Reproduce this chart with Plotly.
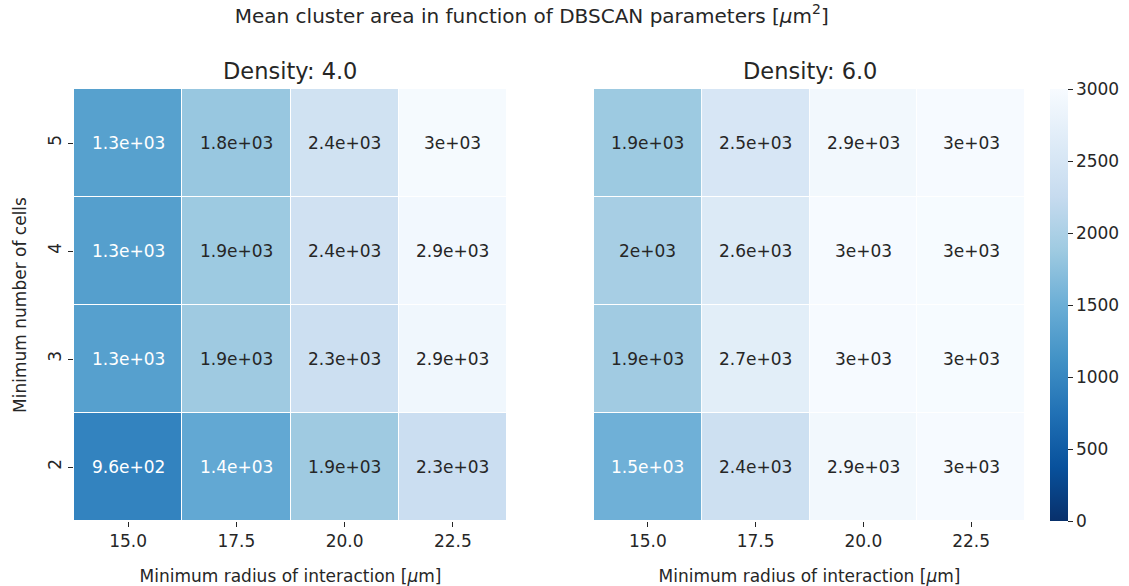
import plotly.graph_objects as go
from plotly.subplots import make_subplots

radius = ["15.0", "17.5", "20.0", "22.5"]
min_cells = ["2", "3", "4", "5"]
densities = ["Density: 4.0", "Density: 6.0"]

# rows follow min_cells order (2, 3, 4, 5), columns follow radius
area_d4 = [
    [960, 1420, 1880, 2330],
    [1310, 1880, 2340, 2900],
    [1300, 1870, 2400, 2930],
    [1320, 1830, 2410, 2970],
]
area_d6 = [
    [1530, 2360, 2920, 2980],
    [1900, 2690, 2980, 2990],
    [1960, 2600, 2980, 2990],
    [1870, 2510, 2920, 2980],
]

blues_r = ["#08306b", "#08519c", "#2171b5", "#4292c6", "#6baed6",
           "#9ecae1", "#c6dbef", "#deebf7", "#f7fbff"]
colorscale = [[i / (len(blues_r) - 1), c] for i, c in enumerate(blues_r)]

FONT = "DejaVu Sans"
TXT = "#262626"
fig = make_subplots(rows=1, cols=2, shared_yaxes=True)

for k, z in enumerate([area_d4, area_d6]):
    fig.add_trace(go.Heatmap(
        x=radius, y=min_cells, z=z, zmin=0, zmax=3000,
        colorscale=colorscale, xgap=1, ygap=1,
        showscale=(k == 0),
        colorbar=dict(x=1.026, xanchor="left", xpad=0, y=0.5, yanchor="middle",
                      len=1.0, lenmode="fraction", thickness=18, ypad=0,
                      outlinewidth=0, ticks="outside", ticklen=5, tickcolor=TXT,
                      tickvals=[0, 500, 1000, 1500, 2000, 2500, 3000],
                      tickfont=dict(family=FONT, size=17, color=TXT)),
        hoverinfo="z",
    ), row=1, col=k + 1)
    xref = "x" if k == 0 else "x2"
    yref = "y" if k == 0 else "y2"
    for i in range(len(min_cells)):
        for j in range(len(radius)):
            v = z[i][j]
            # category axes: position by category index
            fig.add_annotation(
                x=j, y=i, xref=xref, yref=yref, text="{:.2g}".format(v),
                showarrow=False,
                font=dict(family=FONT, size=17,
                          color="white" if v < 1600 else TXT))

fig.update_layout(
    width=1129, height=586,
    paper_bgcolor="white", plot_bgcolor="white",
    margin=dict(l=74, r=104, t=89, b=65, autoexpand=False),
    font=dict(family=FONT, color=TXT),
    title=dict(text="Mean cluster area in function of DBSCAN parameters [<i>μ</i>m<sup>2</sup>]",
               x=0.471, xanchor="center", y=0.985, yanchor="top",
               font=dict(family=FONT, size=20, color=TXT)),
)

fig.update_layout(xaxis=dict(domain=[0.0, 0.4553]), xaxis2=dict(domain=[0.5468, 1.0]))

for c in (1, 2):
    fig.update_xaxes(
        row=1, col=c, type="category", categoryorder="array", categoryarray=radius,
        showgrid=False, zeroline=False, showline=False, tickangle=0, automargin=False,
        ticks="outside", ticklen=5, tickcolor=TXT,
        tickfont=dict(family=FONT, size=17, color=TXT),
        title=dict(text="Minimum radius of interaction [<i>μ</i>m]", standoff=19,
                   font=dict(family=FONT, size=17, color=TXT)))
fig.update_yaxes(
    row=1, col=1, type="category", categoryorder="array", categoryarray=min_cells,
    showgrid=False, zeroline=False, showline=False, automargin=False,
    ticks="outside", ticklen=5, tickcolor=TXT, tickangle=-90,
    tickfont=dict(family=FONT, size=17, color=TXT),
    title=dict(text="Minimum number of cells", standoff=14,
               font=dict(family=FONT, size=17, color=TXT)))
fig.update_yaxes(row=1, col=2, type="category", showticklabels=False, ticks="",
                 showgrid=False, zeroline=False, showline=False, automargin=False)

for k, t in enumerate(densities):
    fig.add_annotation(
        text=t, xref="x domain" if k == 0 else "x2 domain",
        yref="y domain", x=0.5, y=1.0, yshift=3, xanchor="center", yanchor="bottom",
        showarrow=False, font=dict(family=FONT, size=22.5, color=TXT))

fig.write_html("out.html")
